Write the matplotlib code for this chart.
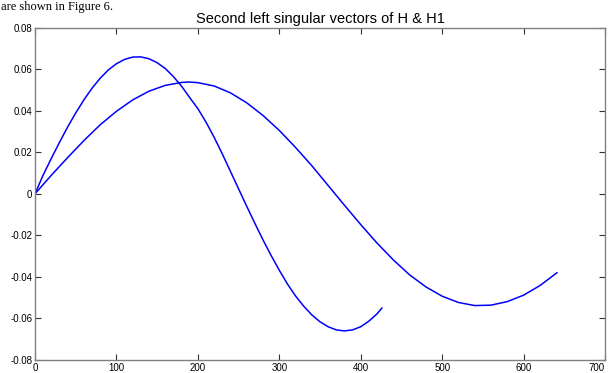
import matplotlib
matplotlib.use("Agg")
import matplotlib.pyplot as plt

# Curve 1 (H): values
h_x = [0, 10, 20, 30, 40, 50, 60, 70, 80, 90, 100, 110, 120, 130, 140, 150, 160, 170, 180, 190,
       200, 210, 220, 230, 240, 250, 260, 270, 280, 290, 300, 310, 320, 330, 340, 350, 360, 370,
       380, 390, 400, 410, 420, 426]
h_y = [0.0, 0.0090, 0.0170, 0.0247, 0.0321, 0.0389, 0.0452, 0.0508, 0.0556, 0.0596, 0.0626,
       0.0647, 0.0658, 0.0659, 0.0650, 0.0631, 0.0603, 0.0564, 0.0518, 0.0463, 0.0410, 0.0345,
       0.0272, 0.0192, 0.0108, 0.0024, -0.0060, -0.0142, -0.0222, -0.0297, -0.0368, -0.0434,
       -0.0492, -0.0541, -0.0583, -0.0616, -0.0640, -0.0655, -0.0660, -0.0655, -0.0640, -0.0613,
       -0.0578, -0.0550]

# Curve 2 (H1)
h1_x = [0, 20, 40, 60, 80, 100, 120, 140, 160, 180, 189, 200, 220, 240, 260, 280, 300, 320, 340,
        360, 380, 400, 420, 440, 460, 480, 500, 520, 540, 560, 580, 600, 620, 641]
h1_y = [0.0, 0.0089, 0.0174, 0.0256, 0.0332, 0.0397, 0.0452, 0.0494, 0.0522, 0.0536, 0.0538,
        0.0535, 0.0519, 0.0486, 0.0438, 0.0377, 0.0305, 0.0223, 0.0135, 0.0040, -0.0055,
        -0.0148, -0.0237, -0.0318, -0.0390, -0.0448, -0.0493, -0.0523, -0.0538, -0.0536,
        -0.0519, -0.0488, -0.0442, -0.0380]

x_ticks = [0, 100, 200, 300, 400, 500, 600, 700]
y_ticks = [-0.08, -0.06, -0.04, -0.02, 0, 0.02, 0.04, 0.06, 0.08]
y_labels = ["-0.08", "-0.06", "-0.04", "-0.02", "0", "0.02", "0.04", "0.06", "0.08"]

fig = plt.figure(figsize=(6.11, 3.73), dpi=100)
ax = fig.add_axes([35/611, 1-360/373, 570/611, (360-27.6)/373])

blue = "#0000ff"
ax.plot(h_x, h_y, color=blue, lw=1.1)
ax.plot(h1_x, h1_y, color=blue, lw=1.1)

ax.set_xlim(0, 700)
ax.set_ylim(-0.08, 0.08)
ax.set_xticks(x_ticks)
ax.set_xticklabels([str(v) for v in x_ticks])
ax.set_yticks(y_ticks)
ax.set_yticklabels(y_labels)
ax.tick_params(direction="in", top=True, right=True, length=4, width=0.8,
               labelsize=7, color="#333333", pad=2)
for lab in ax.get_xticklabels() + ax.get_yticklabels():
    lab.set_family(["Liberation Sans", "DejaVu Sans"])
ax.get_xticklabels()[-1].set_horizontalalignment("right")
for sp in ax.spines.values():
    sp.set_color("#808080")
    sp.set_linewidth(1.0)

ax.set_title("Second left singular vectors of H & H1", fontsize=10.5,
             family=["Liberation Sans", "DejaVu Sans"], pad=3)

fig.text(0.002, 0.998, "are shown in Figure 6.", fontsize=9,
         family=["Liberation Serif", "DejaVu Serif"], va="top", ha="left")

fig.savefig("out.png", dpi=100)
